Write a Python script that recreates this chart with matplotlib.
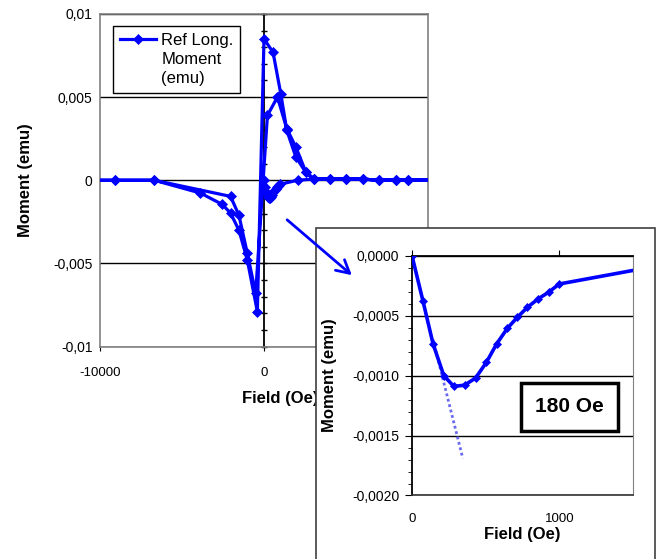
import numpy as np
import matplotlib
matplotlib.use('Agg')
import matplotlib.pyplot as plt
from matplotlib.patches import Rectangle, FancyArrowPatch
from matplotlib.lines import Line2D
from matplotlib.ticker import MultipleLocator

plt.rcParams['font.family'] = ['Liberation Sans', 'DejaVu Sans']

# first sweep from zero field up (also shown in the inset)
virgin_field = [0, 75, 143, 216, 284, 357, 432, 505, 575, 648, 716, 784, 857, 927, 1000,
                2045, 3020, 4020, 5000, 6020, 7040, 8020, 8775, 10500]
virgin_moment = [0.0, -0.00038, -0.000735, -0.00100, -0.00109, -0.00108, -0.00102, -0.00089,
                 -0.000735, -0.000605, -0.000513, -0.00043, -0.00036, -0.000305, -0.000236,
                 0.0, 0.00007, 0.00007, 0.0001, 0.00007, 0.0, 0.0, 0.0, 0.0]

# sweep down from +10000 to -10000
desc_field = [10500, 8775, 8020, 7040, 6020, 5000, 4020, 3020, 2550, 1941, 1390, 1023, 550, 0,
              -405, -1017, -1530, -2041, -2551, -3878, -6694, -9082, -10500]
desc_moment = [0.0, 0.0, 0.0, 0.0, 0.00007, 0.0001, 0.00007, 0.00009, 0.00047, 0.0014, 0.0030,
               0.0052, 0.0077, 0.0085, -0.0079, -0.0048, -0.0030, -0.00197, -0.00145, -0.00077,
               0.0, 0.0, 0.0]

# sweep back up from -10000 to +10000
asc_field = [-10500, -9082, -6694, -2041, -1530, -1017, -508, 208, 820, 1390, 1941, 2550, 3020,
             4020, 5000, 6020, 7040, 8020, 8775, 10500]
asc_moment = [0.0, 0.0, 0.0, -0.00097, -0.0021, -0.0044, -0.0068, 0.0039, 0.0050, 0.0031, 0.0020,
              0.0005, 0.0001, 0.0001, 0.0001, 0.00007, 0.0, 0.0, 0.0, 0.0]

# dotted initial-slope line in the inset
dotted_field = [143, 345]
dotted_moment = [-0.00070, -0.00169]

main_xticks = [-10000, 0, 10000]
main_xticklabels = ['-10000', '0', '10000']
main_yticks = [-0.01, -0.005, 0, 0.005, 0.01]
main_yticklabels = ['-0,01', '-0,005', '0', '0,005', '0,01']

inset_xticks = [0, 1000]
inset_xticklabels = ['0', '1000']
inset_yticks = [-0.002, -0.0015, -0.001, -0.0005, 0]
inset_yticklabels = ['-0,0020', '-0,0015', '-0,0010', '-0,0005', '0,0000']

legend_lines = ['Ref Long.', 'Moment', '(emu)']

blue = '#0000ff'

field = virgin_field + desc_field + asc_field
moment = virgin_moment + desc_moment + asc_moment

fig = plt.figure(figsize=(6.6, 5.59), dpi=100)

# main chart
ax = fig.add_axes([0.1515, 0.3801, 0.497, 0.5949])
line, = ax.plot(field, moment, color=blue, lw=2.3, marker='D', ms=5.5, mew=0.5, zorder=3)
ax.set_xlim(-10000, 10000)
ax.set_ylim(-0.01, 0.01)
ax.set_xticks(main_xticks)
ax.set_xticklabels(main_xticklabels)
ax.set_yticks(main_yticks)
ax.set_yticklabels(main_yticklabels)
ax.tick_params(axis='y', length=0, pad=5.3, labelsize=10)
ax.tick_params(axis='x', length=3, direction='out', pad=12, labelsize=9.5)
ax.grid(axis='y', color='black', lw=1.0)
ax.set_axisbelow(True)
for s in ax.spines.values():
    s.set_color('#808080')
    s.set_linewidth(1.2)

# y axis crossing at field = 0
yax0 = ax.secondary_yaxis(0.5)
yax0.yaxis.set_major_locator(MultipleLocator(0.005))
yax0.yaxis.set_minor_locator(MultipleLocator(0.001))
yax0.tick_params(which='both', direction='inout', length=4, width=1,
                 labelright=False, labelleft=False)
for s in yax0.spines.values():
    s.set_color('black')
    s.set_linewidth(1.3)

ax.set_ylabel('Moment (emu)', fontsize=12, fontweight='bold')
ax.yaxis.label.set_va('center')
ax.yaxis.set_label_coords(-0.228, 0.5)
ax.set_xlabel('Field (Oe)', fontsize=12, fontweight='bold')
ax.xaxis.label.set_va('center')
ax.xaxis.set_label_coords(0.549, -0.155)

blank = Line2D([], [], color='none')
leg = ax.legend([line, blank, blank], legend_lines, loc='upper left',
                bbox_to_anchor=(113 / 660, 1 - 26 / 559),
                bbox_transform=fig.transFigure, fontsize=12, fancybox=False,
                edgecolor='black', framealpha=1, borderpad=0.4, handlelength=2.2,
                handletextpad=0.3, borderaxespad=0, labelspacing=0.25)
leg.get_frame().set_linewidth(1.0)

# inset frame
frame = Rectangle((316 / 660, -0.1), (655 - 316) / 660, 1 - 227.5 / 559 + 0.1,
                  transform=fig.transFigure, fc='white', ec='#404040', lw=1.2, zorder=2)
fig.add_artist(frame)

# inset chart
ax_in = fig.add_axes([0.6242, 0.1136, 0.3348, 0.4290], zorder=3)
ax_in.plot(dotted_field, dotted_moment, color='#6a6af0', lw=2, ls=(0, (1, 1)), zorder=2)
ax_in.plot(virgin_field, virgin_moment, color=blue, lw=2.6, marker='D', ms=4.5, mew=0.5,
           zorder=3)
ax_in.set_xlim(0, 1500)
ax_in.set_ylim(-0.002, 0)
ax_in.set_xticks(inset_xticks)
ax_in.set_xticklabels(inset_xticklabels)
ax_in.set_yticks(inset_yticks)
ax_in.set_yticklabels(inset_yticklabels)
ax_in.yaxis.set_minor_locator(MultipleLocator(0.0001))
ax_in.tick_params(axis='y', which='major', direction='out', length=5, pad=4, labelsize=10)
ax_in.tick_params(axis='y', which='minor', direction='out', length=3)
ax_in.tick_params(axis='x', top=True, bottom=False, labelbottom=True, direction='out',
                  length=4, pad=8.5, labelsize=9.5)
ax_in.grid(axis='y', color='black', lw=1.0)
ax_in.set_axisbelow(True)
ax_in.spines['left'].set_color('black')
ax_in.spines['left'].set_linewidth(1.3)
ax_in.spines['top'].set_color('black')
ax_in.spines['top'].set_linewidth(1.3)
ax_in.spines['right'].set_color('#808080')
ax_in.spines['bottom'].set_color('#333333')
ax_in.spines['bottom'].set_linewidth(1.2)

ax_in.set_ylabel('Moment (emu)', fontsize=12, fontweight='bold')
ax_in.yaxis.label.set_va('center')
ax_in.yaxis.set_label_coords(-0.371, 0.5)
ax_in.set_xlabel('Field (Oe)', fontsize=12, fontweight='bold')
ax_in.xaxis.label.set_va('center')
ax_in.xaxis.set_label_coords(0.5, -0.1606)

fig.text(569.5 / 660, 1 - 407 / 559, '180 Oe', ha='center', va='center', fontsize=15,
         fontweight='bold', zorder=5,
         bbox=dict(boxstyle='square,pad=0.68', fc='white', ec='black', lw=2.5))

arrow = FancyArrowPatch((285 / 660, 1 - 218 / 559), (354 / 660, 1 - 277 / 559),
                        transform=fig.transFigure,
                        arrowstyle='->,head_length=0.46,head_width=0.25',
                        mutation_scale=20, color=blue, lw=2, zorder=6)
fig.add_artist(arrow)

fig.savefig('out.png', dpi=100)
